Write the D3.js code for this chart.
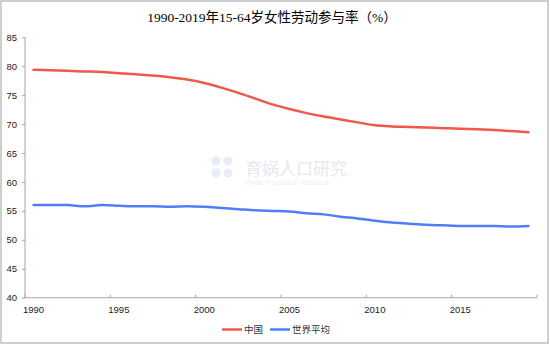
<!DOCTYPE html>
<html><head><meta charset="utf-8">
<script src="https://cdn.jsdelivr.net/npm/d3@7"></script>
<style>body{margin:0;background:#fff}svg{display:block}</style>
</head><body>
<svg id="c" width="550" height="345"></svg>
<script>
const years = d3.range(1990, 2020);
const china = [79.4,79.3,79.2,79.1,79.0,78.8,78.6,78.4,78.1,77.7,77.1,76.3,75.4,74.4,73.4,72.6,71.9,71.3,70.8,70.3,69.8,69.6,69.5,69.4,69.3,69.2,69.1,69.0,68.8,68.6];
const world = [56.0,56.0,56.0,55.8,56.0,55.9,55.8,55.8,55.7,55.8,55.7,55.5,55.3,55.1,55.0,54.9,54.6,54.4,54.0,53.7,53.3,53.0,52.8,52.6,52.5,52.4,52.4,52.4,52.3,52.4];
const yTicks = [40,45,50,55,60,65,70,75,80,85];
const xLabels = [1990,1995,2000,2005,2010,2015];
const seriesNames = ["中国","世界平均"];
const colors = ["#f0584a","#4f7ef5"];

const svg = d3.select("#c");
svg.append("rect").attr("x",1).attr("y",1).attr("width",547).attr("height",342)
  .attr("fill","#fff").attr("stroke","#bfbfbf").attr("stroke-width",1.5);

const L=25,R=537,T=37.3,B=297.7;
const x = d3.scaleBand().domain(years).range([L,R]);
const y = d3.scaleLinear().domain([40,85]).range([B,T]);

// watermark
svg.append("text").attr("x",245).attr("y",175).attr("font-family","Noto Sans CJK SC")
  .attr("font-size",17).attr("fill","#e6e9f0").text("育娲人口研究");
svg.append("text").attr("x",245).attr("y",185).attr("font-family","Liberation Sans")
  .attr("font-size",7).attr("fill","#eef0f4").text("YuWa Population Research");
[[216,161],[228,161],[216,173],[228,173]].forEach(p=>svg.append("circle").attr("cx",p[0]).attr("cy",p[1]).attr("r",4.5).attr("fill","#e8ecf6"));

// title
svg.append("text").attr("x",272).attr("y",22).attr("text-anchor","middle")
  .attr("font-family","Liberation Serif, Noto Sans CJK SC").attr("font-size",13.5).attr("fill","#000")
  .text("1990-2019年15-64岁女性劳动参与率（%）");

// y axis
const yAxis = svg.append("g").attr("transform",`translate(${L},0)`)
  .call(d3.axisLeft(y).tickValues(yTicks).tickSize(3).tickPadding(5));
// x axis
const xAxisG = svg.append("g").attr("transform",`translate(0,${B})`);
xAxisG.append("line").attr("x1",L).attr("x2",R).attr("y1",0).attr("y2",0);
const boundaries = d3.range(0,31,5).map(i=> i<30 ? x(years[i]) : R);
xAxisG.selectAll("line.t").data(boundaries).join("line").attr("class","t")
  .attr("x1",d=>d).attr("x2",d=>d).attr("y1",0).attr("y2",-3);
xAxisG.selectAll("text").data(xLabels).join("text")
  .attr("x",d=>x(d)+x.bandwidth()/2).attr("y",15).attr("text-anchor","middle").text(d=>d);
[yAxis, xAxisG].forEach(g=>{
  g.selectAll("line,path").attr("stroke","#a6a6a6").attr("stroke-width",1);
  g.selectAll("text").attr("font-family","Liberation Sans").attr("font-size",9.5).attr("fill","#222");
});
yAxis.select(".domain").attr("d",`M0,${T}V${B}`);

const line = d3.line().x((d,i)=>x(years[i])+x.bandwidth()/2).y(d=>y(d)).curve(d3.curveCatmullRom.alpha(0.5));
[china, world].forEach((s,k)=>{
  svg.append("path").datum(s).attr("d",line).attr("fill","none")
    .attr("stroke",colors[k]).attr("stroke-width",2.5).attr("stroke-linecap","round");
});

// legend
const lg = svg.append("g");
const lx = [222, 270];
seriesNames.forEach((n,k)=>{
  lg.append("line").attr("x1",lx[k]).attr("x2",lx[k]+20).attr("y1",329.5).attr("y2",329.5)
    .attr("stroke",colors[k]).attr("stroke-width",2.5);
  lg.append("text").attr("x",lx[k]+22).attr("y",333).attr("font-family","Noto Sans CJK SC")
    .attr("font-size",9.5).attr("fill","#333").text(n);
});
</script>
</body></html>
